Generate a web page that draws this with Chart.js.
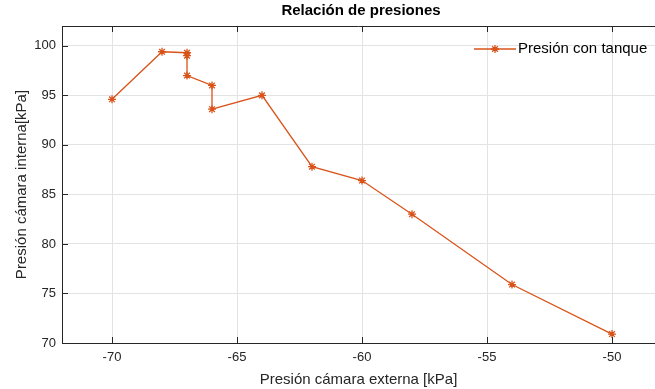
<!DOCTYPE html>
<html>
<head>
<meta charset="utf-8">
<script src="https://cdn.jsdelivr.net/npm/chart.js@4/dist/chart.umd.min.js"></script>
<style>
  html, body { margin: 0; padding: 0; background: #fff; overflow: hidden; }
  canvas { display: block; }
</style>
</head>
<body>
<canvas id="plot-area" width="655" height="389"></canvas>
<script>
// datos
const presionExterna = [-70, -68, -67, -67, -67, -66, -66, -64, -62, -60, -58, -54, -50];
const presionInterna = [94.6, 99.4, 99.3, 99.0, 97.0, 96.0, 93.6, 95.0, 87.8, 86.4, 83.0, 75.9, 70.9];
const xTicks = [-70, -65, -60, -55, -50];
const yTicks = [70, 75, 80, 85, 90, 95, 100];

const serieLabel = "Presión con tanque";
const titulo = "Relación de presiones";
const colorSerie = "#D95319";
const colorEje = "#262626";
const fuente = "'Liberation Sans', Arial, Helvetica, sans-serif";

// caja tipo matlab: borde arriba, ticks hacia dentro, titulo y leyenda
// (el borde derecho queda fuera de la imagen original)
const matlabBox = {
  id: "matlabBox",
  afterDraw(chart) {
    const ctx = chart.ctx;
    const a = chart.chartArea;
    const xs = chart.scales.x;
    const ys = chart.scales.y;
    ctx.save();
    ctx.strokeStyle = colorEje;
    ctx.lineWidth = 1;
    ctx.beginPath();
    ctx.moveTo(a.left, a.top + 0.5); ctx.lineTo(a.right, a.top + 0.5);
    xTicks.forEach(v => {
      const px = Math.round(xs.getPixelForValue(v)) + 0.5;
      ctx.moveTo(px, a.bottom); ctx.lineTo(px, a.bottom - 6);
      ctx.moveTo(px, a.top); ctx.lineTo(px, a.top + 6);
    });
    yTicks.forEach(v => {
      const py = Math.round(ys.getPixelForValue(v)) + 0.5;
      ctx.moveTo(a.left, py); ctx.lineTo(a.left + 6, py);
    });
    ctx.stroke();

    // titulo
    ctx.fillStyle = "#000";
    ctx.font = "bold 15px " + fuente;
    ctx.textAlign = "center";
    ctx.textBaseline = "middle";
    ctx.fillText(titulo, 361, 11);

    // leyenda
    const ly = 49;
    ctx.strokeStyle = colorSerie;
    ctx.lineWidth = 1.3;
    ctx.beginPath();
    ctx.moveTo(474, ly); ctx.lineTo(516, ly);
    ctx.stroke();
    Chart.helpers.drawPoint(ctx, { pointStyle: "star", radius: 4, borderWidth: 1.3 }, 495, ly);
    ctx.fillStyle = "#000";
    ctx.font = "15px " + fuente;
    ctx.textAlign = "left";
    ctx.fillText(serieLabel, 518, ly);
    ctx.restore();
  }
};

const config = {
  type: "scatter",
  data: {
    datasets: [{
      label: serieLabel,
      data: presionExterna.map((x, i) => ({ x: x, y: presionInterna[i] })),
      showLine: true,
      borderColor: colorSerie,
      backgroundColor: colorSerie,
      borderWidth: 1.3,
      pointStyle: "star",
      pointRadius: 4,
      pointBorderWidth: 1.3,
      pointBorderColor: colorSerie,
    }],
  },
  options: {
    responsive: false,
    animation: false,
    devicePixelRatio: 1,
    layout: { autoPadding: false, padding: { left: 0, right: 0, top: 26, bottom: 0 } },
    plugins: {
      legend: { display: false },
      title: { display: false },
      tooltip: { enabled: false },
    },
    scales: {
      x: {
        type: "linear",
        min: -72,
        max: -48.28,
        afterBuildTicks: s => { s.ticks = xTicks.map(v => ({ value: v })); },
        afterFit: s => {
          s.height = 46;
          s.paddingLeft = 0;
          s.paddingRight = 0;
        },
        grid: { color: "#e3e3e3", drawTicks: false },
        border: { color: colorEje, width: 1 },
        ticks: { color: colorEje, padding: 7, font: { family: fuente, size: 13 } },
        title: {
          display: true,
          text: "Presión cámara externa [kPa]",
          color: colorEje,
          font: { family: fuente, size: 15 },
          padding: { top: 0, bottom: 0 },
        },
      },
      y: {
        type: "linear",
        min: 70,
        max: 102,
        afterBuildTicks: s => { s.ticks = yTicks.map(v => ({ value: v })); },
        afterFit: s => {
          s.width = 62;
          s.paddingTop = 0;
          s.paddingBottom = 0;
        },
        grid: { color: "#e3e3e3", drawTicks: false },
        border: { color: colorEje, width: 1 },
        ticks: { color: colorEje, padding: 6, font: { family: fuente, size: 13 } },
        title: {
          display: true,
          text: "Presión cámara interna[kPa]",
          color: colorEje,
          font: { family: fuente, size: 15 },
          padding: { top: 12.5, bottom: 0 },
        },
      },
    },
  },
  plugins: [matlabBox],
};

new Chart(document.getElementById("plot-area").getContext("2d"), config);
</script>
</body>
</html>
